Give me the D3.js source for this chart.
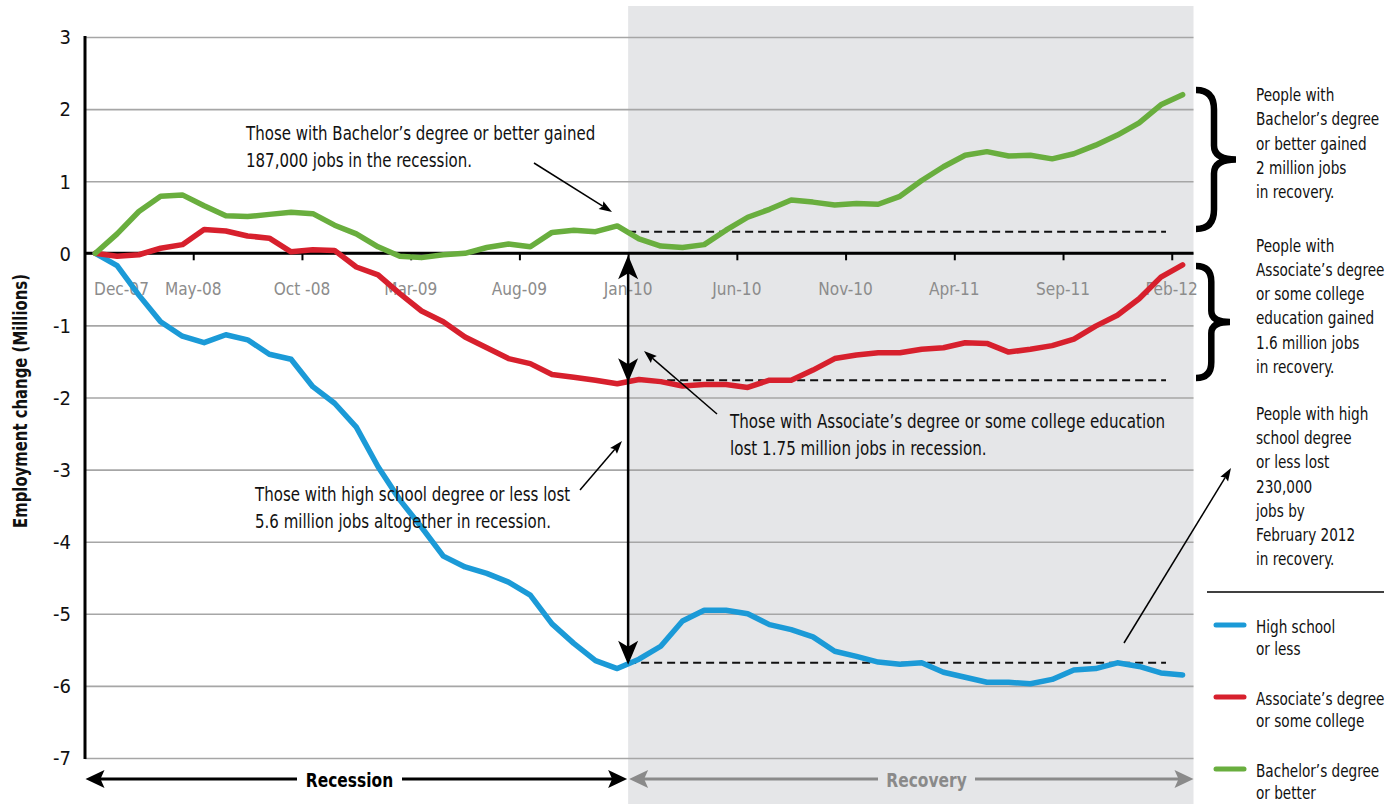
<!DOCTYPE html>
<html>
<head>
<meta charset="utf-8">
<script src="https://cdn.jsdelivr.net/npm/d3@7"></script>
<style>
html,body{margin:0;padding:0;background:#fff;}
svg{display:block;}
text{font-family:'Liberation Sans Narrow','DejaVu Sans Condensed','Arial Narrow',sans-serif;}
</style>
</head>
<body>
<svg id="chart" width="1400" height="804"></svg>
<script>
// ---------- DATA ----------
const months = ["Dec-07","Jan-08","Feb-08","Mar-08","Apr-08","May-08","Jun-08","Jul-08","Aug-08","Sep-08","Oct-08","Nov-08",
  "Dec-08","Jan-09","Feb-09","Mar-09","Apr-09","May-09","Jun-09","Jul-09","Aug-09","Sep-09","Oct-09","Nov-09",
  "Dec-09","Jan-10","Feb-10","Mar-10","Apr-10","May-10","Jun-10","Jul-10","Aug-10","Sep-10","Oct-10","Nov-10",
  "Dec-10","Jan-11","Feb-11","Mar-11","Apr-11","May-11","Jun-11","Jul-11","Aug-11","Sep-11","Oct-11","Nov-11",
  "Dec-11","Jan-12","Feb-12"];
const highSchool = [0,-0.17,-0.58,-0.95,-1.15,-1.24,-1.13,-1.20,-1.40,-1.47,-1.85,-2.08,-2.41,-2.96,-3.42,-3.80,-4.20,
  -4.35,-4.44,-4.56,-4.74,-5.14,-5.41,-5.65,-5.76,-5.63,-5.45,-5.10,-4.95,-4.95,-5.00,-5.15,-5.22,-5.32,-5.52,-5.59,
  -5.67,-5.70,-5.68,-5.81,-5.88,-5.95,-5.95,-5.97,-5.91,-5.78,-5.76,-5.68,-5.73,-5.82,-5.85];
const associate = [0,-0.04,-0.02,0.07,0.12,0.33,0.31,0.24,0.21,0.02,0.05,0.04,-0.19,-0.30,-0.56,-0.80,-0.95,-1.16,
  -1.31,-1.46,-1.53,-1.68,-1.72,-1.76,-1.81,-1.75,-1.78,-1.84,-1.82,-1.82,-1.86,-1.76,-1.76,-1.62,-1.46,-1.41,-1.38,
  -1.38,-1.33,-1.31,-1.24,-1.25,-1.37,-1.33,-1.28,-1.19,-1.01,-0.86,-0.63,-0.33,-0.16];
const bachelor = [0,0.27,0.58,0.79,0.81,0.66,0.52,0.51,0.54,0.57,0.55,0.39,0.27,0.09,-0.04,-0.06,-0.02,0.00,0.08,0.13,
  0.09,0.29,0.32,0.30,0.38,0.20,0.10,0.08,0.12,0.32,0.50,0.61,0.74,0.71,0.67,0.69,0.68,0.79,1.01,1.20,1.36,1.41,1.35,
  1.36,1.31,1.38,1.50,1.64,1.81,2.06,2.20];
const tickLabels = ["Dec-07","May-08","Oct -08","Mar-09","Aug-09","Jan-10","Jun-10","Nov-10","Apr-11","Sep-11","Feb-12"];
const tickIndex = [0,5,10,15,20,25,30,35,40,45,50];
const yTicks = [3,2,1,0,-1,-2,-3,-4,-5,-6,-7];
const seriesNames = ["High school\nor less","Associate\u2019s degree\nor some college","Bachelor\u2019s degree\nor better"];
const seriesColors = ["#1b9ad7","#d7202d","#69ae3e"];
const recessionEnd = 25;          // Jan-10 boundary
const levelAtRecessionEnd = [-5.68,-1.76,0.30];  // dashed reference levels

// ---------- SCALES ----------
const svg = d3.select("#chart");
const x = d3.scaleLinear().domain([0, months.length]).range([84.5, 1193.5]);
const y = d3.scaleLinear().domain([-7, 3]).range([758, 37]);
const xp = i => x(i + 0.5);

// shaded recovery
svg.append("rect").attr("x", x(recessionEnd)).attr("y", 6)
  .attr("width", x(months.length) - x(recessionEnd)).attr("height", 804 - 6)
  .attr("fill", "#e5e6e8");

// gridlines via axis
const yAxis = d3.axisLeft(y).tickValues(yTicks).tickSize(-(x(months.length) - 85)).tickFormat(d => d);
const gy = svg.append("g").attr("transform", "translate(85,0)").call(yAxis);
gy.select(".domain").remove();
gy.selectAll(".tick line").attr("stroke", "#a6a6a6").attr("stroke-width", 1.6);
gy.selectAll(".tick text").attr("x", -14).attr("dy", "0.34em").attr("font-size", 20).attr("fill", "#111")
  .style("font-family", "'Liberation Sans Narrow','DejaVu Sans Condensed',sans-serif");

// y axis line
svg.append("line").attr("x1", 85).attr("x2", 85).attr("y1", y(3) - 1).attr("y2", y(-7) + 1)
  .attr("stroke", "#000").attr("stroke-width", 3);

// zero line + ticks
const xAxis = d3.axisBottom(x).tickValues(tickIndex.slice(1)).tickSize(7).tickFormat("");
const gx = svg.append("g").attr("transform", `translate(0,${y(0)})`).call(xAxis);
gx.select(".domain").attr("d", `M85,0H${x(months.length)}`).attr("stroke", "#000").attr("stroke-width", 3);
gx.selectAll(".tick line").attr("stroke", "#000").attr("stroke-width", 2);

// x tick labels
svg.append("g").selectAll("text").data(tickIndex).join("text")
  .attr("transform", (d, i) => `translate(${i === 0 ? x(d) + 37 : x(d)},295) scale(0.95,1)`)
  .attr("text-anchor", "middle").attr("font-size", 18).attr("fill", "#8c8c8c")
  .text((d, i) => tickLabels[i]);

// y title
svg.append("text").attr("transform", "translate(27,401) rotate(-90) scale(0.87,1)").attr("text-anchor", "middle")
  .attr("font-size", 19).attr("font-weight", "bold").attr("fill", "#111").text("Employment change (Millions)");

// dashed reference lines
svg.append("g").selectAll("line").data(levelAtRecessionEnd).join("line")
  .attr("x1", x(recessionEnd)).attr("x2", 1166).attr("y1", d => y(d)).attr("y2", d => y(d))
  .attr("stroke", "#111").attr("stroke-width", 2).attr("stroke-dasharray", "8,5");

// series lines
const line = d3.line().x((d, i) => xp(i)).y(d => y(d));
[highSchool, associate, bachelor].forEach((s, k) => {
  svg.append("path").datum(s).attr("d", line).attr("fill", "none")
    .attr("stroke", seriesColors[k]).attr("stroke-width", 5.5).attr("stroke-linejoin", "round").attr("stroke-linecap", "round");
});

// arrowhead helper
function head(g, tx, ty, ang, L, W, n, fill) {
  const c = Math.cos(ang), s = Math.sin(ang);
  const bx = tx - L * c, by = ty - L * s;
  const pts = [[tx, ty], [bx - W * s, by + W * c], [tx - (L - n) * c, ty - (L - n) * s], [bx + W * s, by - W * c]];
  g.append("path").attr("d", "M" + pts.map(p => p.join(",")).join("L") + "Z").attr("fill", fill);
}
function arrow(g, x1, y1, x2, y2, w, L, W, n, col) {
  const ang = Math.atan2(y2 - y1, x2 - x1);
  g.append("line").attr("x1", x1).attr("y1", y1).attr("x2", x2 - (L - n) * Math.cos(ang)).attr("y2", y2 - (L - n) * Math.sin(ang))
    .attr("stroke", col).attr("stroke-width", w);
  head(g, x2, y2, ang, L, W, n, col);
}

const ann = svg.append("g");
// vertical measuring arrow at Jan-10
const xr = x(recessionEnd);
ann.append("line").attr("x1", xr).attr("x2", xr).attr("y1", y(0) + 6).attr("y2", y(levelAtRecessionEnd[0]) - 6)
  .attr("stroke", "#000").attr("stroke-width", 2.5);
head(ann, xr, y(0) + 2, -Math.PI / 2, 24, 10, 6, "#000");
head(ann, xr, y(levelAtRecessionEnd[1]) + 2, Math.PI / 2, 24, 10, 6, "#000");
head(ann, xr, y(levelAtRecessionEnd[0]) + 2, Math.PI / 2, 24, 10, 6, "#000");

// thin annotation arrows
arrow(ann, 534, 163, 612, 212, 1.5, 13, 4.5, 2, "#000");
arrow(ann, 717, 414, 644, 351, 1.5, 13, 4.5, 2, "#000");
arrow(ann, 580, 490, 622, 441, 1.5, 13, 4.5, 2, "#000");
arrow(ann, 1124, 643, 1231, 468, 1.5, 13, 4.5, 2, "#000");

// annotation texts (horizontally condensed to match the narrow face)
function textBlock(g, lines, tx, ty, lh, size, sx, opts = {}) {
  const gg = g.append("g").attr("transform", `translate(${tx},${ty}) scale(${sx},1)`);
  const t = gg.append("text").attr("x", 0).attr("y", 0).attr("font-size", size).attr("fill", opts.fill || "#111");
  if (opts.weight) t.attr("font-weight", opts.weight);
  lines.forEach((l, i) => t.append("tspan").attr("x", 0).attr("y", i * lh).text(l));
}
textBlock(ann, ["Those with Bachelor\u2019s degree or better gained", "187,000 jobs in the recession."], 246, 140, 27, 19.5, 0.857);
textBlock(ann, ["Those with Associate\u2019s  degree or some college education", "lost 1.75 million jobs in recession."], 730, 428, 27, 19.5, 0.863);
textBlock(ann, ["Those with high school degree or less lost", "5.6 million jobs altogether in recession."], 255, 501, 27, 19.5, 0.857);

textBlock(ann, ["People with", "Bachelor\u2019s degree", "or better gained", "2 million jobs", "in recovery."], 1256, 101, 24.3, 17, 0.89);
textBlock(ann, ["People with", "Associate\u2019s degree", "or some college", "education gained", "1.6 million jobs", "in recovery."], 1256, 251.5, 24.3, 17, 0.89);
textBlock(ann, ["People with high", "school degree", "or less lost", "230,000", "jobs by", "February 2012", "in recovery."], 1256, 420, 24.2, 17, 0.89);

// braces
function brace(g, x0, y0, y1, w) {
  const ym = (y0 + y1) / 2, xm = x0 + w * 0.45, h = y1 - y0;
  const d = `M${x0},${y0} Q${xm},${y0} ${xm},${y0 + h * 0.14} L${xm},${ym - h * 0.1} Q${xm},${ym} ${x0 + w},${ym}` +
    ` Q${xm},${ym} ${xm},${ym + h * 0.1} L${xm},${y1 - h * 0.14} Q${xm},${y1} ${x0},${y1}`;
  g.append("path").attr("d", d).attr("fill", "none").attr("stroke", "#000").attr("stroke-width", 6.5).attr("stroke-linecap", "butt");
}
brace(ann, 1196, 90, 229, 40);
brace(ann, 1196, 266, 378, 34);

// separator
ann.append("line").attr("x1", 1207).attr("x2", 1384).attr("y1", 592).attr("y2", 592).attr("stroke", "#000").attr("stroke-width", 1.5);

// legend
const leg = svg.append("g");
seriesNames.forEach((nm, k) => {
  const yy = 625 + k * 72;
  leg.append("line").attr("x1", 1216).attr("x2", 1244).attr("y1", yy).attr("y2", yy)
    .attr("stroke", seriesColors[k]).attr("stroke-width", 5).attr("stroke-linecap", "round");
  textBlock(leg, nm.split("\n"), 1256, yy + 8, 22, 17, 0.89);
});

// recession / recovery arrows
const by = 779;
const bot = svg.append("g");
function spanArrow(xa, xb, gap0, gap1, col, label, weight) {
  bot.append("line").attr("x1", xa + 14).attr("x2", gap0).attr("y1", by).attr("y2", by).attr("stroke", col).attr("stroke-width", 3);
  bot.append("line").attr("x1", gap1).attr("x2", xb - 14).attr("y1", by).attr("y2", by).attr("stroke", col).attr("stroke-width", 3);
  head(bot, xa, by, Math.PI, 19, 9, 4, col);
  head(bot, xb, by, 0, 19, 9, 4, col);
  bot.append("text").attr("transform", `translate(${(gap0 + gap1) / 2},${by + 8}) scale(0.86,1)`).attr("text-anchor", "middle")
    .attr("font-size", 20).attr("font-weight", weight).attr("fill", col).text(label);
}
spanArrow(x(0) + 1, x(recessionEnd) - 1, 297, 402, "#000", "Recession", "bold");
spanArrow(x(recessionEnd) + 1, x(months.length), 878, 975, "#8a8a8a", "Recovery", "bold");
</script>
</body>
</html>
